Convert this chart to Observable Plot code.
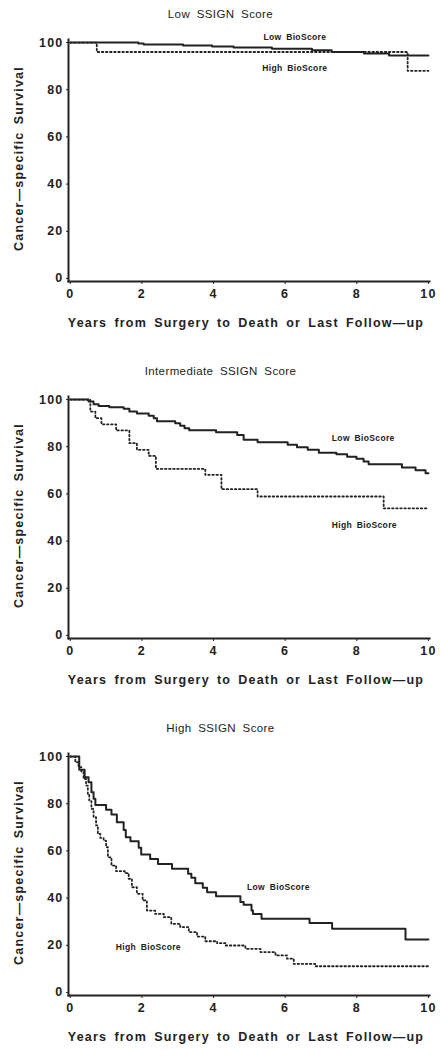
<!DOCTYPE html>
<html><head><meta charset="utf-8">
<script src="https://cdn.jsdelivr.net/npm/d3@7"></script>
<script src="https://cdn.jsdelivr.net/npm/@observablehq/plot@0.6"></script>
<style>
body{margin:0;background:#fff;width:441px;}
.panel{height:357px;overflow:hidden;}
.title{height:28px;line-height:28px;text-align:center;font-family:"Liberation Sans",Arial,sans-serif;font-size:11.5px;color:#222;letter-spacing:0.4px;word-spacing:3px;}
svg{display:block;}
g[aria-label="x-axis tick label"] text, g[aria-label="y-axis tick label"] text{font-size:12.5px;font-weight:bold;letter-spacing:1.2px;fill:#222;}
</style></head>
<body><div id="chart"></div>
<script>
const panelTitles = ["Low SSIGN Score", "Intermediate SSIGN Score", "High SSIGN Score"];
const xAxisLabel = "Years from Surgery to Death or Last Follow\u2014up";
const yAxisLabel = "Cancer\u2014specific Survival";
const xTicks = [0, 2, 4, 6, 8, 10];
const yTicks = [0, 20, 40, 60, 80, 100];
const seriesNames = ["Low BioScore", "High BioScore"];

// Low SSIGN Score
const lowSsignLowBioYears = [0, 1.9, 2.05, 3.15, 3.96, 4.56, 5.63, 6.75, 7.3, 8.2, 8.9, 10];
const lowSsignLowBioSurv  = [100, 99.6, 99.2, 98.8, 98.3, 97.9, 97.4, 96.7, 96.0, 95.4, 94.5, 94.5];
const lowSsignHighBioYears = [0, 0.74, 9.42, 10];
const lowSsignHighBioSurv  = [100, 96, 88, 88];

// Intermediate SSIGN Score
const midSsignLowBioYears = [0, 0.51, 0.65, 0.79, 1.09, 1.49, 1.65, 1.86, 2.19, 2.33, 2.42, 2.93, 3.07, 3.19, 3.32, 4.07, 4.66, 4.84, 5.23, 6.07, 6.33, 6.63, 6.94, 7.43, 7.73, 7.99, 8.19, 8.33, 9.26, 9.64, 9.92, 10];
const midSsignLowBioSurv  = [100, 99.2, 98.0, 97.3, 96.7, 96.1, 94.9, 94.1, 93.1, 92.1, 90.8, 90.0, 88.9, 87.8, 87.0, 86.1, 85.0, 83.0, 81.9, 80.8, 79.8, 78.7, 77.5, 76.8, 75.8, 74.9, 73.7, 72.6, 71.2, 70.0, 68.8, 68.8];
const midSsignHighBioYears = [0, 0.56, 0.70, 0.87, 1.28, 1.65, 1.86, 2.19, 2.39, 3.77, 4.22, 5.23, 8.75, 9.95];
const midSsignHighBioSurv  = [100, 94.9, 92.1, 89.5, 86.9, 81.5, 78.7, 76.1, 70.6, 68.1, 62.0, 58.9, 53.9, 53.9];

// High SSIGN Score
const highSsignLowBioYears = [0, 0.25, 0.40, 0.51, 0.59, 0.65, 0.70, 1.0, 1.15, 1.30, 1.49, 1.55, 1.68, 1.91, 1.98, 2.23, 2.45, 2.84, 3.29, 3.38, 3.49, 3.70, 3.82, 4.07, 4.75, 4.84, 5.06, 5.10, 5.34, 6.68, 7.31, 9.36, 10];
const highSsignLowBioSurv  = [100, 94.4, 91.2, 89.1, 84.9, 82.1, 79.5, 77.4, 75.4, 72.2, 68.9, 65.8, 64.1, 61.3, 58.5, 56.6, 54.5, 52.4, 50.3, 48.6, 46.3, 44.4, 42.5, 40.8, 38.3, 37.2, 34.7, 33.3, 31.2, 29.4, 27.0, 22.4, 22.4];
const highSsignHighBioYears = [0, 0.14, 0.23, 0.31, 0.37, 0.44, 0.49, 0.53, 0.59, 0.65, 0.72, 0.77, 0.84, 0.93, 1.0, 1.05, 1.15, 1.28, 1.52, 1.63, 1.72, 1.86, 2.02, 2.14, 2.37, 2.61, 2.82, 3.07, 3.31, 3.54, 3.77, 4.10, 4.33, 4.89, 5.31, 5.73, 6.05, 6.24, 6.84, 10];
const highSsignHighBioSurv  = [100, 97.6, 95.5, 93.4, 90.5, 87.7, 84.2, 81.4, 77.8, 74.3, 70.8, 67.2, 65.5, 64.4, 61.6, 57.3, 53.8, 51.4, 50.6, 48.2, 44.6, 41.8, 39.0, 34.7, 33.3, 31.9, 29.1, 27.7, 25.6, 23.7, 21.7, 20.9, 19.9, 18.5, 17.1, 15.7, 14.3, 12.1, 11.1, 11.1];

// Series label anchor positions (data units), per panel: [low, high]
const labelYears = [[6.27, 6.27], [8.18, 8.21], [5.81, 2.18]];
const labelSurv  = [[102.1, 89.3], [83.6, 46.6], [44.6, 19.2]];

const panels = [
  {low: [lowSsignLowBioYears, lowSsignLowBioSurv], high: [lowSsignHighBioYears, lowSsignHighBioSurv]},
  {low: [midSsignLowBioYears, midSsignLowBioSurv], high: [midSsignHighBioYears, midSsignHighBioSurv]},
  {low: [highSsignLowBioYears, highSsignLowBioSurv], high: [highSsignHighBioYears, highSsignHighBioSurv]}
];

const toRows = ([ys, ss]) => ys.map((t, i) => ({year: t, surv: ss[i]}));
const font = '"Liberation Sans", Arial, Helvetica, sans-serif';
const ink = "#222";
const chart = document.getElementById("chart");

panels.forEach((p, k) => {
  const panel = document.createElement("div");
  panel.className = "panel";
  const title = document.createElement("div");
  title.className = "title";
  title.textContent = panelTitles[k];
  panel.appendChild(title);

  const labels = seriesNames.map((name, i) => ({name, year: labelYears[k][i], surv: labelSurv[k][i]}));

  const svg = Plot.plot({
    width: 441,
    height: 329,
    marginTop: 11,
    marginBottom: 76,
    marginLeft: 68,
    marginRight: 12,
    style: {fontFamily: font, color: ink, background: "white", overflow: "visible"},
    x: {domain: [-0.05, 10.03]},
    y: {domain: [-1.3, 101.3]},
    marks: [
      Plot.axisX({ticks: xTicks, tickSize: 3, tickPadding: 5, tickFormat: d => String(d), label: null, stroke: ink}),
      Plot.axisY({ticks: yTicks, tickSize: 2, tickPadding: 3, tickFormat: d => String(d), label: null, stroke: ink}),
      Plot.frame({anchor: "left", stroke: ink, strokeWidth: 2}),
      Plot.frame({anchor: "bottom", stroke: ink, strokeWidth: 2}),
      Plot.line(toRows(p.low), {x: "year", y: "surv", curve: "step-after", stroke: ink, strokeWidth: 2}),
      Plot.line(toRows(p.high), {x: "year", y: "surv", curve: "step-after", stroke: ink, strokeWidth: 1.8, strokeDasharray: "1.5,2.6"}),
      Plot.text(labels, {x: "year", y: "surv", text: "name", fill: ink, fontSize: 8.5, fontWeight: "bold"}),
      Plot.text([yAxisLabel], {frameAnchor: "left", textAnchor: "middle", lineAnchor: "middle", rotate: -90, dx: -50, dy: -2, text: d => d, fill: ink, fontSize: 12.5, fontWeight: "bold"}),
      Plot.text([xAxisLabel], {frameAnchor: "bottom", textAnchor: "middle", lineAnchor: "middle", dx: -3, dy: 41, text: d => d, fill: ink, fontSize: 12.5, fontWeight: "bold"})
    ]
  });
  // letter spacing for the text marks (series labels, y title, x title)
  const textGroups = svg.querySelectorAll('g[aria-label="text"]');
  const spacing = [["0.35px", "2px"], ["1.2px", "2.5px"], ["1.2px", "2.5px"]];
  textGroups.forEach((g, i) => {
    if (spacing[i]) {
      g.style.letterSpacing = spacing[i][0];
      g.style.wordSpacing = spacing[i][1];
    }
  });
  panel.appendChild(svg);
  chart.appendChild(panel);
});
</script>
</body></html>
